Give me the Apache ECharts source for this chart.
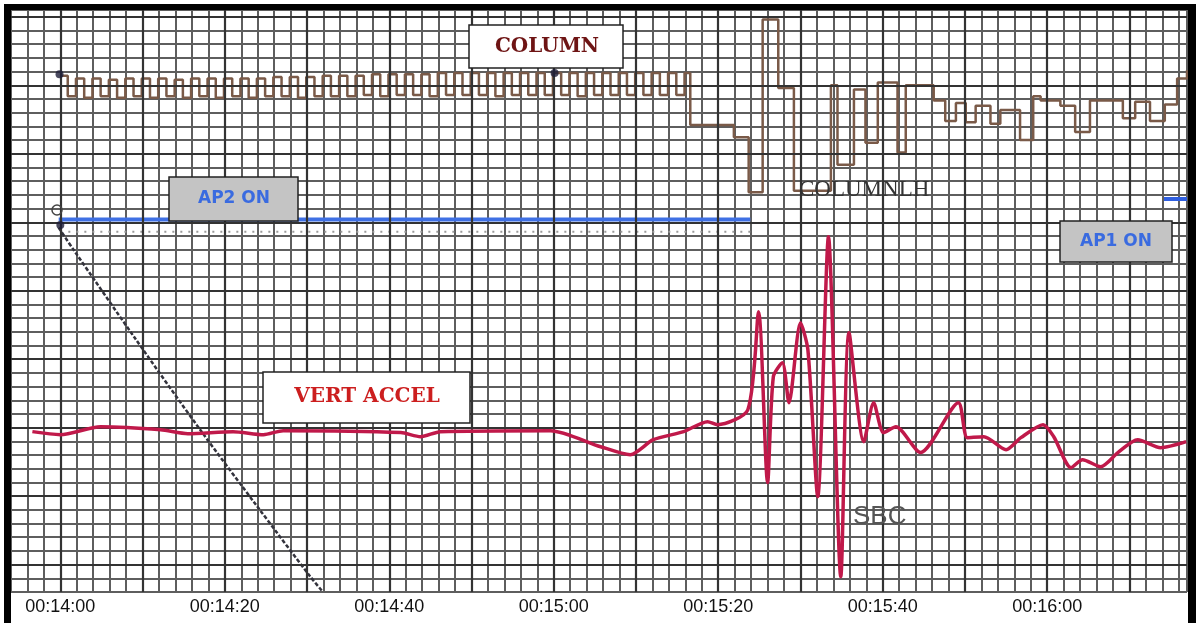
<!DOCTYPE html>
<html>
<head>
<meta charset="utf-8">
<script src="https://cdn.jsdelivr.net/npm/echarts@6/dist/echarts.min.js"></script>
<style>
  html, body { margin: 0; padding: 0; background: #fff; }
  #chart { width: 1198px; height: 623px; }
</style>
</head>
<body>
<div id="chart"></div>
<script>
// time in seconds after 00:14:00, vertical in chart-paper cells
const labelSeconds = [0, 20, 40, 60, 80, 100, 120];
const labelTexts = ['00:14:00', '00:14:20', '00:14:40', '00:15:00', '00:15:20', '00:15:40', '00:16:00'];
const majorX = [0, 10, 20, 30, 40, 50, 60, 70, 80, 90, 100, 110, 120, 130];
const majorY = [0, 5, 10, 15, 20, 25, 30, 35, 40];

// COLUMN trace (step line)
const columnT = [0, 0.9, 1.9, 2.9, 3.9, 4.9, 5.9, 6.9, 7.9, 8.9, 9.9, 10.9, 11.9, 12.9, 13.9, 14.9, 15.9, 16.9, 17.9, 18.9,
  19.9, 20.9, 21.9, 22.9, 23.9, 24.9, 25.9, 26.9, 27.9, 28.9, 29.9, 30.9, 31.9, 32.9, 33.9, 34.9, 35.9, 36.9, 37.9, 38.9,
  39.9, 40.9, 41.9, 42.9, 43.9, 44.9, 45.9, 46.9, 47.9, 48.9, 49.9, 50.9, 51.9, 52.9, 53.9, 54.9, 55.9, 56.9, 57.9, 58.9,
  59.9, 60.9, 61.9, 62.9, 63.9, 64.9, 65.9, 66.9, 67.9, 68.9, 69.9, 70.9, 71.9, 72.9, 73.9, 74.9, 75.9,
  76.6, 81.9, 83.7, 85.4, 87.3, 89.2, 93.7, 94.5, 96.5, 97.9, 99.4, 101.8, 102.8, 106.2, 107.6, 108.9, 110.1, 111.3, 113.1,
  114.3, 116.7, 118.3, 119.2, 121.6, 123.4, 125.2, 129.2, 130.7, 132.5, 134.3, 135.8, 137];
const columnV = [35.7, 34.2, 35.5, 34.1, 35.5, 34.2, 35.4, 34.1, 35.5, 34.2, 35.5, 34.1, 35.5, 34.2, 35.4, 34.1, 35.5, 34.2, 35.5, 34.1,
  35.5, 34.2, 35.5, 34.1, 35.5, 34.2, 35.6, 34.2, 35.6, 34.1, 35.6, 34.2, 35.7, 34.2, 35.7, 34.2, 35.7, 34.3, 35.8, 34.2,
  35.8, 34.3, 35.8, 34.3, 35.8, 34.2, 35.9, 34.3, 35.9, 34.3, 35.9, 34.3, 35.9, 34.2, 35.9, 34.3, 35.9, 34.3, 35.9, 34.3,
  35.9, 34.3, 35.9, 34.2, 35.9, 34.3, 35.9, 34.3, 35.9, 34.3, 35.9, 34.3, 35.9, 34.3, 35.9, 34.3, 35.9,
  32.1, 31.2, 27.2, 39.8, 34.8, 27.3, 35.0, 29.2, 34.7, 30.8, 35.2, 30.1, 35.0, 33.9, 32.4, 33.7, 32.3, 33.5, 32.2,
  33.2, 31.0, 34.2, 33.9, 33.5, 31.6, 33.9, 32.6, 33.8, 32.4, 33.6, 35.5, 36.1, 36.1];

// VERT ACCEL trace
const accelT = [-3.4, 0, 4.9, 12.2, 15.5, 21.0, 24.7, 27.1, 41.4, 43.8, 46.2, 59.6, 65.7, 69.3, 72.1, 75.8, 78.7, 79.9, 83.6,
  84.9, 86.0, 86.7, 87.8, 88.6, 90.0, 90.9, 92.1, 93.4, 94.9, 95.9, 97.7, 98.9, 100.1, 101.6, 104.6, 109.2, 110.3, 112.3,
  115.0, 116.8, 119.5, 120.8, 122.9, 124.3, 126.5, 128.6, 131.0, 133.8, 136.9];
const accelV = [9.71, 9.49, 10.07, 9.85, 9.56, 9.71, 9.49, 9.78, 9.64, 9.34, 9.71, 9.78, 8.61, 8.03, 9.12, 9.71, 10.44, 10.22, 11.31,
  18.47, 5.99, 13.72, 14.74, 11.82, 17.66, 15.69, 4.96, 23.94, -0.88, 16.93, 8.98, 11.82, 9.64, 10.07, 8.18, 11.82, 9.27, 9.34,
  8.39, 9.27, 10.22, 9.34, 7.08, 7.66, 7.15, 8.18, 9.12, 8.54, 8.98];

// diagonal trace
const diagT = [-0.2, 1.6, 9.0, 17.0, 24.0, 30.4, 31.8];
const diagV = [24.6, 23.0, 16.6, 9.85, 4.2, -0.88, -1.9];

// AP engaged lines
const ap2T = [-0.2, 83.9];
const ap2V = [25.2, 25.2];
const ap1T = [134.2, 137];
const ap1V = [26.7, 26.7];

// faint dotted trace
const dotT = [0, 84];
const dotV = [24.3, 24.3];

// event dots
const dotsT = [-0.1, 60.1, 0];
const dotsV = [35.8, 35.9, 24.8];

const zip = (a, b) => a.map((v, i) => [v, b[i]]);

const chart = echarts.init(document.getElementById('chart'));

const gridLine = { show: true, lineStyle: { color: '#5e5e5e', width: 2 } };

const option = {
  animation: false,
  backgroundColor: '#ffffff',
  grid: { left: 11, right: 11, top: 10, bottom: 31 },
  xAxis: {
    type: 'value', min: -6, max: 137, interval: 2,
    axisLine: { show: false }, axisTick: { show: false },
    splitLine: gridLine,
    axisLabel: {
      interval: 0, margin: 6, color: '#111', fontSize: 18, fontFamily: 'Liberation Sans, Arial, sans-serif',
      formatter: v => { const i = labelSeconds.indexOf(Math.round(v)); return i >= 0 && Math.abs(v - Math.round(v)) < 1e-6 ? labelTexts[i] : ''; }
    }
  },
  yAxis: {
    type: 'value', min: -2, max: 40.5, interval: 1,
    axisLine: { show: false }, axisTick: { show: false }, axisLabel: { show: false },
    splitLine: gridLine
  },
  series: [
    {
      name: 'major', type: 'line', z: 1, symbol: 'none', silent: true,
      data: [[-6, -2]], lineStyle: { opacity: 0 },
      markLine: {
        silent: true, symbol: ['none', 'none'], label: { show: false },
        lineStyle: { color: '#333333', width: 2.2, type: 'solid' },
        data: majorX.map(x => ({ xAxis: x })).concat(majorY.map(y => ({ yAxis: y })))
      }
    },
    {
      name: 'dotted', type: 'line', z: 2, symbol: 'none', silent: true,
      data: zip(dotT, dotV), lineStyle: { color: '#9a9a9a', width: 2, type: [2, 6] }
    },
    {
      name: 'COLUMN', type: 'line', z: 3, symbol: 'none', step: 'end',
      data: zip(columnT, columnV), lineStyle: { color: '#7a5a48', width: 2.5 }
    },
    {
      name: 'diag', type: 'line', z: 3, symbol: 'none', smooth: 0.3,
      data: zip(diagT, diagV), lineStyle: { color: '#33333d', width: 2.5, type: [4, 2] }
    },
    {
      name: 'AP2 ON', type: 'line', z: 4, symbol: 'none',
      data: zip(ap2T, ap2V), lineStyle: { color: '#3f70e4', width: 4 }
    },
    {
      name: 'AP1 ON', type: 'line', z: 4, symbol: 'none',
      data: zip(ap1T, ap1V), lineStyle: { color: '#2f5fe0', width: 4 }
    },
    {
      name: 'VERT ACCEL', type: 'line', z: 5, symbol: 'none', smooth: 0.25,
      data: zip(accelT, accelV), lineStyle: { color: '#c0194a', width: 3.5 }
    },
    {
      name: 'marks', type: 'scatter', z: 6, symbolSize: 8,
      data: zip(dotsT, dotsV), itemStyle: { color: '#1e1e38' }
    }
  ],
  graphic: [
    { type: 'circle', shape: { cx: 57, cy: 210, r: 5 }, style: { fill: 'none', stroke: '#444', lineWidth: 1.5 }, z: 20 },
    // label boxes
    { type: 'rect', shape: { x: 469, y: 25, width: 154, height: 43 }, style: { fill: '#fff', stroke: '#222', lineWidth: 1.5 }, z: 20 },
    { type: 'text', x: 547, y: 47, style: { text: 'COLUMN', fill: '#6e1414', font: 'bold 20px "DejaVu Serif", serif', align: 'center', verticalAlign: 'middle' }, z: 21 },
    { type: 'rect', shape: { x: 263, y: 372, width: 207, height: 51 }, style: { fill: '#fff', stroke: '#222', lineWidth: 1.5 }, z: 20 },
    { type: 'text', x: 367, y: 397, style: { text: 'VERT ACCEL', fill: '#cc1e1e', font: 'bold 20px "DejaVu Serif", serif', align: 'center', verticalAlign: 'middle' }, z: 21 },
    { type: 'rect', shape: { x: 169, y: 177, width: 129, height: 44 }, style: { fill: '#c4c4c4', stroke: '#222', lineWidth: 1.5 }, z: 20 },
    { type: 'text', x: 234, y: 199, style: { text: 'AP2 ON', fill: '#3a6be0', font: 'bold 17px "DejaVu Sans", sans-serif', align: 'center', verticalAlign: 'middle' }, z: 21 },
    { type: 'rect', shape: { x: 1060, y: 221, width: 112, height: 41 }, style: { fill: '#c4c4c4', stroke: '#222', lineWidth: 1.5 }, z: 20 },
    { type: 'text', x: 1116, y: 242, style: { text: 'AP1 ON', fill: '#3a6be0', font: 'bold 17px "DejaVu Sans", sans-serif', align: 'center', verticalAlign: 'middle' }, z: 21 },
    { type: 'text', x: 799, y: 190, style: { text: 'COLUMNLH', fill: '#333', font: '23px "Liberation Serif", serif', align: 'left', verticalAlign: 'middle' }, z: 21 },
    { type: 'text', x: 853, y: 517, style: { text: 'SBC', fill: '#555', font: '26px "Liberation Sans", sans-serif', align: 'left', verticalAlign: 'middle' }, z: 21 },
    // black frame
    { type: 'rect', shape: { x: 4, y: 4, width: 7, height: 619 }, style: { fill: '#000' }, z: 30 },
    { type: 'rect', shape: { x: 4, y: 4, width: 1192, height: 6 }, style: { fill: '#000' }, z: 30 },
    { type: 'rect', shape: { x: 1188, y: 4, width: 8, height: 619 }, style: { fill: '#000' }, z: 30 }
  ]
};

chart.setOption(option);
</script>
</body>
</html>
